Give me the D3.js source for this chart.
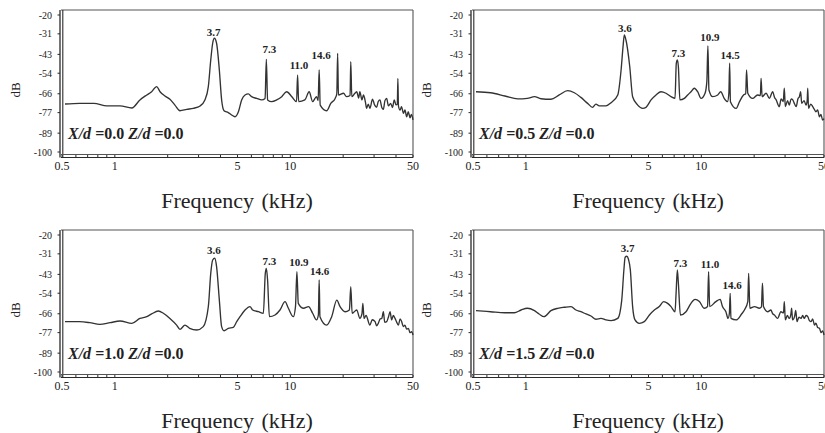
<!DOCTYPE html>
<html>
<head>
<meta charset="utf-8">
<script src="https://cdn.jsdelivr.net/npm/d3@7"></script>
<style>
  html, body { margin: 0; padding: 0; background: #fff; }
  svg { display: block; }
  text { font-family: "Liberation Serif", "Times New Roman", serif; fill: #222; }
</style>
</head>
<body>
<svg id="chart" width="825" height="433"></svg>
<script>
// ---------------- DATA ----------------
const freqTickLabels = [0.5, 1, 5, 10, 50];
const dbTickLabels = [-20, -31, -43, -54, -66, -77, -89, -100];
const minorFreqTicks = [0.5,0.6,0.7,0.8,0.9,1,2,3,4,5,6,7,8,9,10,20,30,40,50];
const xdValues = ["0.0", "0.5", "1.0", "1.5"];
const zdValues = ["0.0", "0.0", "0.0", "0.0"];
const xAxisTitle = "Frequency (kHz)";
const yAxisTitle = "dB";

// spectrum: [frequency kHz, level dB]
const spectrumA = [[0.52,-72.0],[0.63,-71.6],[0.76,-71.6],[0.90,-73.1],[1.07,-73.1],[1.25,-74.3],[1.39,-69.6],[1.52,-66.7],[1.62,-64.8],[1.73,-61.8],[1.81,-64.8],[1.93,-67.3],[2.06,-69.2],[2.20,-72.6],[2.35,-75.9],[2.57,-75.1],[2.80,-74.5],[3.06,-73.1],[3.26,-69.6],[3.41,-61.8],[3.52,-46.3],[3.61,-36.5],[3.69,-33.6],[3.80,-36.5],[3.94,-52.1],[4.06,-69.6],[4.19,-75.9],[4.43,-77.0],[4.63,-78.4],[4.84,-79.4],[5.06,-76.5],[5.28,-69.6],[5.52,-66.7],[5.76,-66.1],[6.02,-67.7],[6.43,-68.7],[6.87,-69.6],[7.18,-68.7],[7.30,-45.9],[7.42,-69.6],[7.83,-70.6],[8.36,-69.6],[8.93,-67.7],[9.53,-64.8],[10.2,-67.7],[10.85,-70.6],[11.0,-55.0],[11.15,-70.6],[12.1,-69.6],[12.8,-64.8],[13.4,-70.6],[14.1,-67.7],[14.4,-70.0],[14.6,-52.1],[14.8,-72.6],[16.1,-75.9],[17.0,-71.6],[18.0,-68.7],[18.4,-66.0],[18.6,-42.4],[18.8,-66.7],[20.1,-65.7],[20.9,-67.7],[21.9,-67.0],[22.1,-47.3],[22.4,-67.7],[23.2,-66.0],[23.9,-64.8],[24.5,-68.5],[24.9,-64.8],[25.6,-69.6],[26.1,-66.7],[26.8,-71.0],[27.2,-74.5],[27.8,-72.0],[28.4,-74.5],[29.4,-69.2],[30.2,-72.5],[31.0,-73.9],[31.7,-70.5],[32.4,-69.6],[33.2,-74.0],[33.9,-75.1],[34.6,-70.0],[35.4,-68.7],[36.2,-73.0],[37.3,-71.6],[38.2,-74.0],[39.1,-69.6],[40.0,-72.5],[40.7,-72.0],[41.0,-57.0],[41.3,-73.0],[42.2,-75.5],[43.0,-73.5],[44.1,-77.4],[45.0,-75.5],[46.0,-79.4],[47.0,-76.5],[48.1,-80.0],[49.0,-78.0],[50.0,-81.3]];

const spectrumB = [[0.52,-64.8],[0.63,-65.4],[0.76,-67.3],[0.90,-69.0],[1.02,-68.7],[1.12,-67.7],[1.22,-68.9],[1.39,-69.2],[1.55,-66.7],[1.73,-64.2],[1.89,-65.4],[2.06,-68.1],[2.25,-71.6],[2.40,-73.9],[2.51,-72.0],[2.62,-73.1],[2.86,-73.1],[3.06,-71.2],[3.34,-66.7],[3.49,-52.1],[3.58,-38.5],[3.64,-31.7],[3.72,-34.6],[3.91,-50.2],[4.06,-67.7],[4.34,-72.6],[4.63,-74.5],[4.84,-73.9],[5.17,-69.6],[5.52,-66.7],[5.89,-64.8],[6.29,-65.7],[6.72,-67.7],[7.08,-68.7],[7.2,-48.2],[7.3,-46.3],[7.4,-50.2],[7.55,-69.6],[8.00,-68.7],[8.36,-66.7],[8.73,-64.8],[9.12,-62.8],[9.53,-64.8],[9.96,-68.7],[10.5,-65.7],[10.75,-58.9],[10.9,-38.1],[11.05,-63.8],[11.6,-67.7],[12.4,-66.7],[12.9,-64.8],[13.5,-68.7],[14.1,-70.6],[14.35,-65.7],[14.5,-48.2],[14.65,-70.6],[15.8,-74.5],[16.5,-70.6],[17.4,-66.7],[17.9,-66.0],[18.1,-52.1],[18.4,-65.7],[19.6,-68.7],[20.9,-66.7],[21.7,-67.0],[21.9,-57.0],[22.2,-67.7],[23.4,-65.7],[24.4,-68.7],[25.5,-64.8],[26.1,-68.0],[26.7,-69.6],[27.8,-73.5],[28.5,-69.0],[29.3,-70.5],[29.7,-62.8],[30.1,-73.5],[31.0,-70.0],[31.7,-72.6],[32.5,-69.0],[33.2,-69.6],[34.0,-72.0],[34.7,-73.5],[35.5,-69.0],[36.2,-67.7],[36.8,-64.8],[37.3,-71.6],[38.5,-70.0],[39.5,-72.6],[40.1,-70.0],[40.4,-62.8],[40.8,-74.5],[42.0,-72.0],[43.1,-73.5],[44.0,-75.0],[45.0,-76.5],[46.0,-75.5],[47.1,-79.4],[48.0,-78.0],[49.1,-81.3],[50.0,-80.5]];

const spectrumC = [[0.52,-70.6],[0.63,-70.6],[0.72,-71.2],[0.82,-72.2],[0.94,-71.2],[1.07,-70.2],[1.25,-71.6],[1.39,-68.7],[1.52,-67.7],[1.62,-66.1],[1.77,-64.4],[1.89,-65.7],[2.06,-68.7],[2.25,-72.6],[2.35,-75.1],[2.51,-72.6],[2.67,-74.5],[2.93,-75.5],[3.19,-73.5],[3.41,-61.8],[3.52,-42.4],[3.61,-34.6],[3.71,-33.6],[3.80,-38.5],[3.94,-58.0],[4.06,-73.5],[4.19,-75.9],[4.43,-74.5],[4.73,-73.9],[4.95,-70.6],[5.17,-67.7],[5.52,-63.8],[5.89,-61.8],[6.10,-63.8],[6.58,-64.8],[7.02,-65.7],[7.2,-42.4],[7.3,-39.5],[7.42,-46.3],[7.6,-67.7],[8.18,-66.7],[8.73,-63.8],[9.33,-58.9],[9.75,-62.8],[10.4,-67.7],[10.7,-61.8],[10.9,-41.4],[11.1,-59.9],[11.9,-62.8],[12.7,-61.8],[13.4,-65.7],[14.1,-69.6],[14.45,-66.7],[14.6,-46.3],[14.75,-67.7],[16.1,-72.6],[17.2,-67.7],[18.4,-58.0],[19.2,-61.8],[20.5,-64.8],[21.7,-63.8],[22.1,-50.2],[22.5,-65.7],[23.9,-63.8],[24.9,-68.7],[25.6,-66.0],[25.9,-59.9],[26.3,-68.7],[27.0,-67.0],[28.4,-72.6],[29.3,-69.5],[30.4,-70.6],[31.0,-73.0],[31.7,-71.6],[32.5,-69.0],[33.2,-68.7],[33.9,-64.8],[34.5,-71.0],[35.4,-70.6],[36.2,-68.0],[37.0,-64.8],[37.8,-69.6],[38.6,-67.0],[39.5,-68.7],[40.4,-71.0],[41.3,-72.6],[42.2,-69.0],[43.1,-70.6],[44.0,-73.5],[45.0,-72.6],[46.0,-75.0],[47.1,-74.5],[48.0,-77.0],[49.1,-76.5],[50.0,-78.4]];

const spectrumD = [[0.52,-64.2],[0.63,-64.8],[0.76,-65.4],[0.86,-65.4],[0.94,-63.8],[1.02,-62.8],[1.12,-64.2],[1.19,-66.1],[1.27,-67.7],[1.39,-64.2],[1.52,-62.8],[1.66,-62.2],[1.81,-61.8],[1.93,-63.8],[2.06,-64.8],[2.20,-66.1],[2.35,-67.3],[2.51,-69.2],[2.68,-68.7],[2.86,-69.6],[3.06,-70.0],[3.34,-68.7],[3.52,-58.0],[3.62,-40.4],[3.68,-33.0],[3.76,-32.4],[3.84,-34.0],[3.94,-40.4],[4.06,-61.8],[4.19,-69.6],[4.43,-71.6],[4.73,-70.6],[5.06,-66.7],[5.40,-63.8],[5.76,-61.8],[6.10,-58.9],[6.43,-59.9],[6.72,-61.8],[7.08,-64.8],[7.18,-54.1],[7.30,-40.4],[7.40,-48.2],[7.6,-66.7],[8.18,-64.8],[8.73,-59.9],[9.21,-57.6],[9.75,-58.9],[10.4,-62.8],[10.85,-61.8],[11.0,-41.4],[11.15,-61.8],[12.1,-58.9],[12.8,-57.6],[13.2,-61.8],[13.8,-64.8],[14.2,-68.7],[14.45,-65.7],[14.6,-54.1],[14.75,-68.7],[15.8,-69.6],[17.0,-66.0],[17.6,-63.8],[18.4,-58.9],[18.6,-42.4],[18.9,-62.8],[20.1,-61.8],[21.4,-62.8],[22.0,-62.0],[22.3,-48.2],[22.6,-61.8],[23.9,-64.8],[24.9,-63.8],[25.5,-66.0],[26.1,-66.7],[27.2,-68.7],[28.4,-64.8],[29.4,-65.5],[29.7,-58.9],[30.1,-69.6],[30.9,-67.0],[31.7,-68.7],[32.4,-66.0],[32.7,-62.8],[33.1,-69.6],[34.0,-67.5],[34.5,-64.0],[35.1,-70.6],[36.0,-68.0],[37.0,-68.7],[37.8,-67.0],[38.6,-68.7],[39.5,-67.0],[40.4,-67.7],[41.3,-70.0],[42.2,-70.6],[43.1,-69.0],[44.1,-72.6],[45.0,-71.5],[46.0,-74.0],[47.1,-74.5],[48.1,-77.0],[49.1,-76.0],[50.0,-78.4]];

// peak annotations: label text, anchor frequency, anchor level
const peaksA = [{t:"3.7", f:3.65, db:-30.3}, {t:"7.3", f:7.6, db:-40.0}, {t:"11.0", f:11.2, db:-49.2}, {t:"14.6", f:15.0, db:-43.4}];
const peaksB = [{t:"3.6", f:3.67, db:-27.8}, {t:"7.3", f:7.4, db:-42.4}, {t:"10.9", f:11.2, db:-33.0}, {t:"14.5", f:14.6, db:-43.4}];
const peaksC = [{t:"3.6", f:3.67, db:-28.8}, {t:"7.3", f:7.6, db:-35.0}, {t:"10.9", f:11.2, db:-35.6}, {t:"14.6", f:14.7, db:-41.4}];
const peaksD = [{t:"3.7", f:3.8, db:-27.8}, {t:"7.3", f:7.6, db:-36.5}, {t:"11.0", f:11.2, db:-36.9}, {t:"14.6", f:15.0, db:-49.2}];

const spectra = [spectrumA, spectrumB, spectrumC, spectrumD];
const peakSets = [peaksA, peaksB, peaksC, peaksD];

// ---------------- LAYOUT ----------------
const panelOffsets = [[0, 0], [411, 0], [0, 220], [411, 220]];
const svg = d3.select("#chart");

const x = d3.scaleLog().domain([0.5, 50]).range([62, 413]);
const y = d3.scaleLinear().domain([-20, -100]).range([15, 152]);
const frame = {left: 61, right: 413, top: 10, bottom: 154.5, axis: 157.5};
const ink = "#2a2a2a";

const line = d3.line().x(d => x(d[0])).y(d => y(d[1])).curve(d3.curveMonotoneX);

spectra.forEach((data, i) => {
  const g = svg.append("g").attr("transform", `translate(${panelOffsets[i][0]},${panelOffsets[i][1]})`);

  // frame
  g.append("line").attr("x1", frame.left).attr("x2", frame.right).attr("y1", frame.top).attr("y2", frame.top)
    .attr("stroke", "#555").attr("stroke-width", 1.1);
  g.append("line").attr("x1", frame.right).attr("x2", frame.right).attr("y1", frame.top).attr("y2", frame.axis)
    .attr("stroke", "#555").attr("stroke-width", 1.1);
  g.append("line").attr("x1", frame.left - 1).attr("x2", frame.left - 1).attr("y1", frame.top).attr("y2", frame.axis)
    .attr("stroke", ink).attr("stroke-width", 1.3);
  g.append("line").attr("x1", frame.left + 1.8).attr("x2", frame.left + 1.8).attr("y1", frame.top).attr("y2", frame.axis)
    .attr("stroke", ink).attr("stroke-width", 1.1);
  g.append("line").attr("x1", frame.left).attr("x2", frame.right).attr("y1", frame.bottom).attr("y2", frame.bottom)
    .attr("stroke", "#555").attr("stroke-width", 1.0);
  g.append("line").attr("x1", frame.left).attr("x2", frame.right).attr("y1", frame.axis).attr("y2", frame.axis)
    .attr("stroke", ink).attr("stroke-width", 1.2);

  // x minor ticks
  g.selectAll(".mt").data(minorFreqTicks).enter().append("line")
    .attr("x1", d => x(d)).attr("x2", d => x(d))
    .attr("y1", frame.axis).attr("y2", frame.axis - 2.5)
    .attr("stroke", ink).attr("stroke-width", 1);

  // y ticks
  g.selectAll(".yt").data(dbTickLabels).enter().append("line")
    .attr("x1", frame.left - 1).attr("x2", frame.left - 3.5)
    .attr("y1", d => y(d)).attr("y2", d => y(d))
    .attr("stroke", ink).attr("stroke-width", 1);

  // y tick labels
  g.selectAll(".yl").data(dbTickLabels).enter().append("text")
    .attr("x", 52).attr("y", d => y(d)).attr("dy", "0.35em")
    .attr("text-anchor", "end").attr("font-size", 10)
    .text(d => d);

  // x tick labels
  g.selectAll(".xl").data(freqTickLabels).enter().append("text")
    .attr("x", d => x(d)).attr("y", 170)
    .attr("text-anchor", "middle").attr("font-size", 12)
    .text(d => d);

  // axis titles
  g.append("text").attr("transform", "translate(20,90) rotate(-90)")
    .attr("text-anchor", "middle").attr("font-size", 13).text(yAxisTitle);
  g.append("text").attr("x", 237).attr("y", 208)
    .attr("text-anchor", "middle").attr("font-size", 22).attr("word-spacing", 2).text(xAxisTitle);

  // spectrum line
  g.append("path").datum(data).attr("d", line)
    .attr("fill", "none").attr("stroke", "#333").attr("stroke-width", 1.35).attr("stroke-linejoin", "round");

  // peak labels
  g.selectAll(".pk").data(peakSets[i]).enter().append("text")
    .attr("x", d => x(d.f)).attr("y", d => y(d.db)).attr("dy", "0.35em")
    .attr("text-anchor", "middle").attr("font-size", 11).attr("font-weight", "bold")
    .text(d => d.t);

  // condition label
  const cl = g.append("text").attr("x", 68).attr("y", 139).attr("font-size", 16).attr("font-weight", "bold");
  cl.append("tspan").attr("font-style", "italic").text("X/d");
  cl.append("tspan").text(" =" + xdValues[i] + " ");
  cl.append("tspan").attr("font-style", "italic").text("Z/d");
  cl.append("tspan").text(" =" + zdValues[i]);
});
</script>
</body>
</html>
